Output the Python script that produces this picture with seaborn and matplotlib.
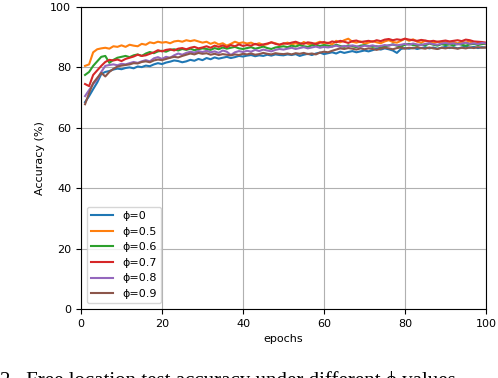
from matplotlib import pyplot as plt
import pandas as pd
import seaborn as sns
import numpy as np

epochs = list(range(1, 101))

acc_phi_0 = [
    68.5, 70.5, 72.8, 75, 77.8, 78.5, 78.8, 79.3, 79.6, 79.4,
    79.8, 80, 79.7, 80.3, 80.1, 80.6, 80.4, 81, 81.4, 81.1,
    81.6, 81.9, 82.3, 82.1, 81.7, 82, 82.5, 82.2, 82.8, 82.4,
    83.1, 82.7, 83.3, 82.9, 83.2, 83.5, 83.1, 83.4, 83.8, 83.6,
    83.9, 84.1, 83.7, 84, 83.8, 84.2, 83.9, 84.3, 84.1, 84,
    84.3, 84.1, 84.4, 83.8, 84.2, 84.5, 84.1, 84.6, 84.9, 84.4,
    84.7, 85, 84.6, 85.2, 84.8, 85.1, 85.4, 85, 85.3, 85.6,
    85.3, 85.7, 86.2, 85.9, 86.3, 86, 85.6, 84.8, 86.1, 86.4,
    86.2, 86.5, 86.1, 86.4, 86.7, 86.3, 86.6, 86.2, 86.5, 86.8,
    86.4, 86.7, 86.3, 86.6, 86.9, 86.5, 86.8, 86.4, 86.7, 86.6,
]
acc_phi_05 = [
    80.5, 81, 85, 86, 86.3, 86.5, 86.2, 87, 86.8, 87.3,
    86.8, 87.5, 87.2, 87, 87.8, 87.5, 88.3, 88, 88.5, 88.2,
    88.4, 88, 88.6, 88.8, 88.5, 89, 88.7, 89, 88.6, 88.2,
    88.5, 87.8, 88.3, 87.6, 88, 87.2, 87.8, 88.5, 88, 88.3,
    87.9, 88.2, 87.6, 88, 87.4, 87.7, 88.3, 88, 87.5, 87.8,
    88.2, 87.6, 88, 87.5, 88.4, 87.8, 87.6, 88, 88.5, 87.9,
    88.2, 87.6, 88.8, 88.3, 89, 89.5, 88.5, 88.2, 88.6, 87.9,
    88.2, 88.7, 88.3, 88, 88.6, 89, 88.4, 88.2, 88.8, 89.5,
    88.8, 89.3, 88.5, 88.2, 88.8, 88.6, 88, 88.5, 88.3, 88.7,
    88.1, 88.4, 87.9, 88.5, 88.2, 88.6, 87.8, 88.1, 88, 87.6,
]
acc_phi_06 = [
    77.5, 78.5, 80.5, 82, 83.5, 83.8, 81.5, 82.5, 83.2, 83.5,
    83.8, 83.4, 84, 84.3, 83.8, 84.6, 85.1, 84.7, 85.3, 85.5,
    85.2, 85.8, 86, 85.6, 86.1, 85.8, 86.2, 85.7, 86, 86.3,
    86.1, 85.8, 86.4, 86, 86.6, 86.2, 86.5, 86.8, 86.3, 86.1,
    86.4, 86.7, 86.2, 86.5, 86.9, 86.4, 86.1, 86.6, 86.8, 87,
    86.7, 87.2, 86.9, 87.4, 87, 86.8, 87.3, 87.5, 87.1, 87.4,
    87.2, 86.9, 87.5, 87.1, 86.8, 87.3, 87, 86.7, 87.2, 87.4,
    87.1, 86.8, 87, 86.6, 86.9, 87.3, 87.6, 87.2, 86.9, 87.5,
    87.8, 87.4, 87.2, 87.6, 87.3, 87.9, 87.5, 87.2, 87.7, 87.4,
    87.6, 87.3, 87.8, 87.5, 87.2, 87.6, 87.8, 87.4, 87.7, 87.9,
]
acc_phi_07 = [
    74.5, 73.8, 77.5, 79, 80.5, 81.8, 82.5, 82.3, 82.6, 82.1,
    82.8, 83.2, 83.6, 84.2, 83.8, 84, 84.5, 85, 85.7, 85.3,
    85.8, 86, 85.6, 86.2, 86.4, 86, 86.5, 86.8, 86.3, 86.6,
    87, 86.5, 87.2, 86.8, 87.3, 86.7, 87.4, 87, 87.6, 87.1,
    87.4, 87.2, 87.8, 87.3, 87.6, 87.9, 88.3, 87.8, 87.5, 88,
    87.8, 88.2, 88.5, 88, 87.8, 88.3, 88.1, 87.7, 88.2, 88.4,
    88, 88.6, 88.3, 88.8, 88.5, 88.1, 88.7, 88.9, 88.4, 88.6,
    88.8, 88.5, 89, 88.7, 89.2, 89.4, 89, 89.3, 89.1, 89.5,
    89.2, 89, 88.8, 89.1, 88.9, 88.6, 88.8, 88.5, 88.7, 88.9,
    88.6, 88.8, 89, 88.7, 89.2, 89, 88.6, 88.5, 88.4, 88.2,
]
acc_phi_08 = [
    70.5, 72.5, 74.5, 76, 78.5, 80.5, 80.8, 81, 80.7, 81.2,
    81, 81.4, 81.8, 81.5, 82, 82.4, 82, 83, 83.4, 82.8,
    83.5, 83.2, 84, 84.6, 84.2, 84.8, 85.2, 84.9, 85.4, 85.1,
    85.5, 85, 85.3, 84.8, 85.6, 85.2, 84.1, 85, 85.4, 85.1,
    85.5, 85.2, 85.8, 85.4, 85.9, 85.6, 85.3, 85.8, 86.1, 85.9,
    86.2, 86.5, 86.1, 86.4, 86.7, 86.3, 86.6, 86.9, 86.5, 86.8,
    86.6, 86.9, 87.2, 86.8, 87.1, 86.9, 87.3, 87, 86.8, 87.2,
    87, 87.3, 86.9, 87.1, 87.4, 87.2, 87.6, 87.3, 87.5, 87.8,
    87.5, 87.9, 87.6, 87.4, 87.8, 88, 87.7, 87.5, 87.9, 88.1,
    87.8, 88, 87.6, 87.9, 88.2, 87.8, 88, 87.7, 88.1, 87.9,
]
acc_phi_09 = [
    67.8, 71.5, 74.8, 76.5, 78.2, 77, 78.5, 79.5, 80.3, 80.6,
    80.8, 81, 81.4, 81.3, 81.8, 82, 81.7, 82.3, 82.6, 82.4,
    82.8, 83.2, 83.5, 83.3, 83.8, 84.2, 84.6, 84.3, 84.8, 84.5,
    84.7, 84.2, 84.5, 84.1, 84.4, 84.2, 84, 84.3, 84.1, 84.5,
    84.3, 84.6, 84.2, 84.4, 84.8, 84.5, 84.3, 84.7, 84.5, 84.4,
    84.6, 84.3, 84.7, 84.5, 84.8, 84.4, 84.6, 84.3, 84.9, 85.2,
    85, 85.5, 85.9, 86.3, 86.1, 86.4, 86.2, 85.9, 86.3, 86,
    86.3, 86.1, 85.8, 86.2, 86.5, 86.3, 86, 86.4, 86.6, 86.2,
    86.5, 86.3, 86.7, 86.4, 86.2, 86.6, 86.3, 86.1, 86.5, 86.3,
    86.6, 86.4, 86.2, 86.5, 86.3, 86.6, 86.4, 86.7, 86.5, 86.6,
]

labels = ["ϕ=0", "ϕ=0.5", "ϕ=0.6", "ϕ=0.7", "ϕ=0.8", "ϕ=0.9"]
series = [acc_phi_0, acc_phi_05, acc_phi_06, acc_phi_07, acc_phi_08, acc_phi_09]

df = pd.concat(
    [pd.DataFrame({"epoch": epochs, "acc": s, "phi": lab}) for lab, s in zip(labels, series)],
    ignore_index=True,
)

plt.rcParams["font.family"] = ["DejaVu Sans"]
plt.rcParams["font.size"] = 8

fig = plt.figure(figsize=(4.98, 3.78), dpi=100)
ax = fig.add_axes([81 / 498, 1 - 309 / 378, 405 / 498, 302 / 378])

sns.lineplot(data=df, x="epoch", y="acc", hue="phi", hue_order=labels,
             palette="tab10", linewidth=1.5, ax=ax)

ax.set_xlim(0, 100)
ax.set_ylim(0, 100)
ax.set_xticks([0, 20, 40, 60, 80, 100])
ax.set_yticks([0, 20, 40, 60, 80, 100])
ax.grid(True, color="#b0b0b0", linewidth=0.8)
ax.set_axisbelow(True)
ax.set_xlabel("epochs")
ax.set_ylabel("Accuracy (%)")
ax.tick_params(labelsize=8)
ax.legend(loc="lower left", title=None, fontsize=8)

# caption line, cut off at the bottom edge as in the source page
fig.text(0.0, -0.022, "2.  Free location test accuracy under different ϕ values",
         family=["Liberation Serif", "DejaVu Serif"], fontsize=15, va="baseline")

fig.savefig("out.png", dpi=100)
plt.close()
